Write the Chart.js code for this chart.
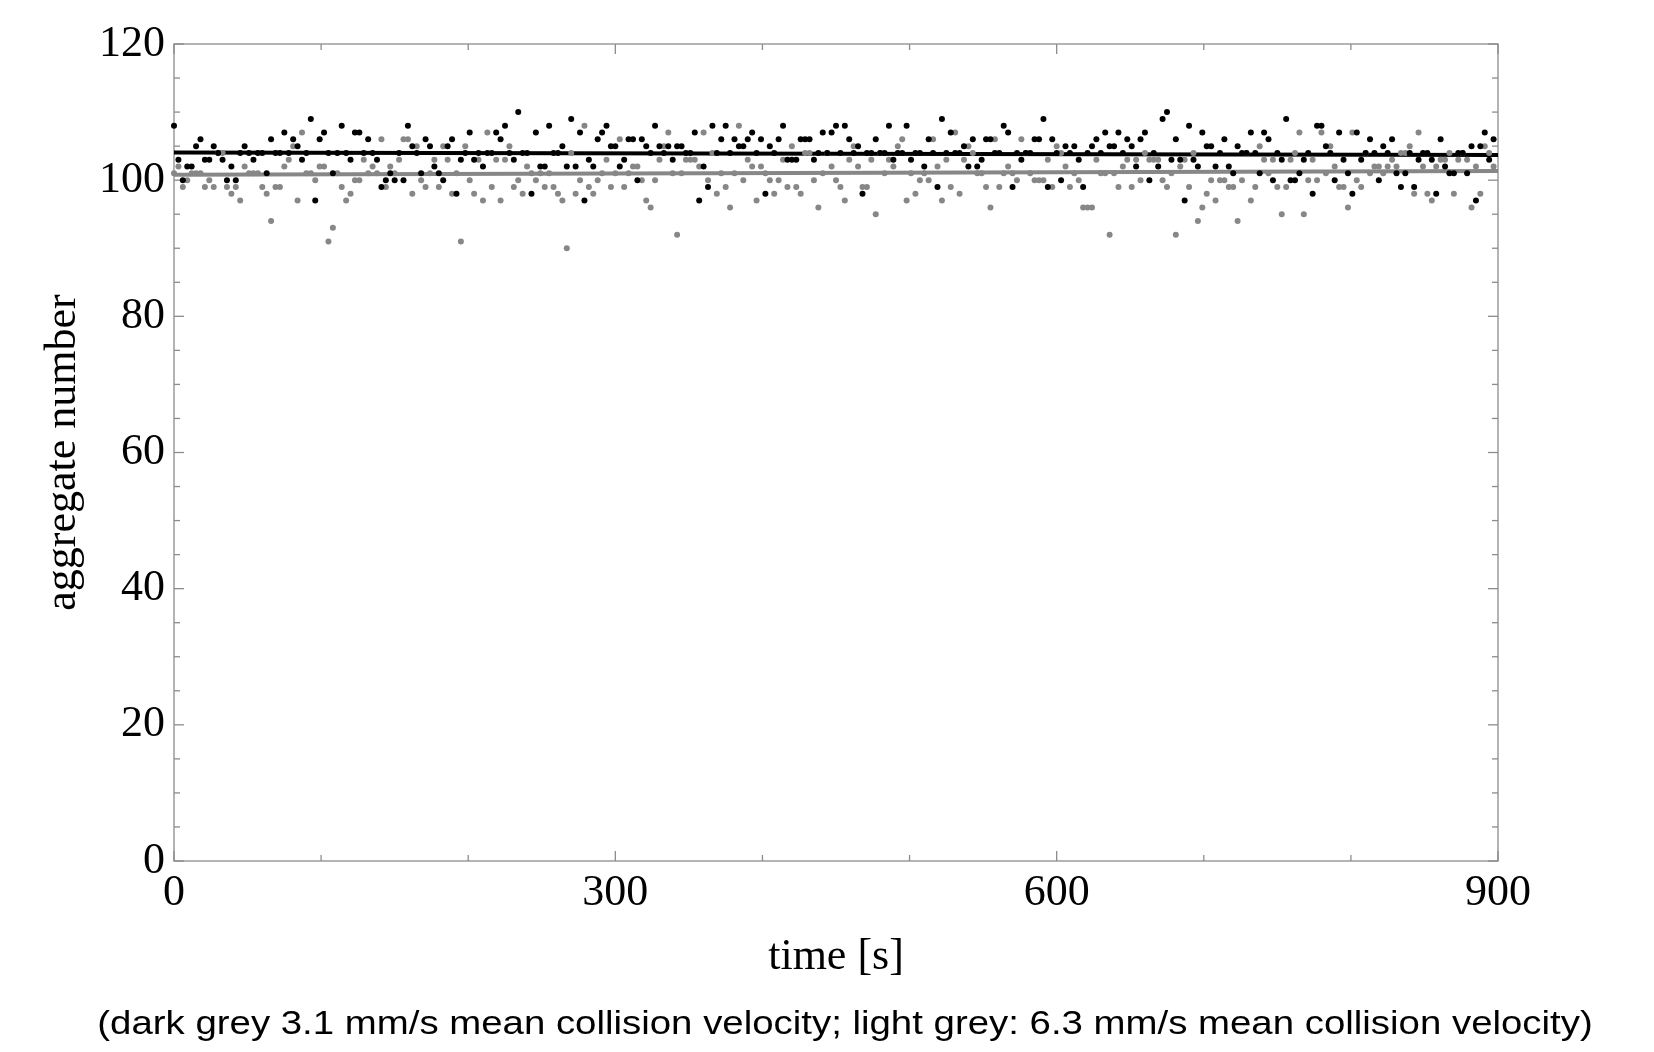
<!DOCTYPE html>
<html>
<head>
<meta charset="utf-8">
<script src="https://cdn.jsdelivr.net/npm/chart.js@4.4.1/dist/chart.umd.min.js"></script>
<style>
  html, body { margin: 0; padding: 0; background: #fff; }
  #wrap { width: 1654px; height: 1052px; position: relative; }
</style>
</head>
<body>
<div id="wrap"><canvas id="aggChart"></canvas></div>
<script>
// aggregate number vs. time, two collision velocities

// one frame every 3 s
const SAMPLE_STEP = 3;

// dark grey series (3.1 mm/s)
const blackCounts = [
  108,103,100,102,102,105,106,103,103,105,
  104,103,100,102,100,104,105,104,103,104,
  104,101,106,104,104,107,104,106,105,103,
  104,109,97,106,107,104,101,104,108,104,
  103,107,107,104,106,104,103,99,100,101,
  100,104,100,108,105,104,101,106,105,102,
  101,100,105,106,98,103,104,107,103,104,
  102,104,104,107,106,108,104,103,110,104,
  104,98,107,102,102,108,104,104,105,102,
  109,102,107,97,103,102,106,107,108,105,
  105,102,103,106,106,100,106,105,104,108,
  105,104,105,103,105,105,104,104,107,97,
  102,99,108,104,106,108,104,106,105,105,
  106,107,104,106,98,105,104,106,108,103,
  103,103,106,106,106,103,104,107,104,107,
  108,104,108,106,104,105,98,104,104,106,
  104,104,108,103,104,104,108,103,104,104,
  102,106,104,99,109,104,107,104,104,105,
  102,106,102,103,106,106,104,104,108,107,
  99,104,103,104,104,106,106,109,99,106,
  104,100,105,104,105,103,99,104,105,106,
  104,107,105,105,107,104,106,105,102,106,
  107,100,104,102,109,110,103,106,103,97,
  108,103,102,107,105,105,102,104,106,102,
  101,105,104,104,107,104,101,107,106,100,
  104,103,109,100,100,101,103,104,98,108,
  108,105,104,100,107,103,101,98,107,103,
  104,106,104,100,105,104,106,101,99,101,
  104,99,103,104,104,103,98,106,102,101,
  101,104,104,101,105,97,105,107,103,106
];

// light grey series (6.3 mm/s)
const greyCounts = [
  101,102,99,100,101,101,101,99,100,99,
  104,104,99,98,99,97,102,101,101,101,
  99,98,94,99,99,102,103,105,97,107,
  101,101,100,102,102,91,93,101,99,97,
  98,100,100,103,101,102,101,106,99,102,
  101,103,106,106,98,105,100,99,101,103,
  99,105,103,98,101,91,105,100,98,103,
  97,107,99,103,97,103,105,99,100,98,
  102,101,100,101,99,101,99,98,97,90,
  104,98,100,108,99,98,100,101,103,99,
  101,106,99,101,102,102,100,97,96,100,
  103,105,107,101,92,101,103,103,103,102,
  107,100,104,98,101,99,96,101,108,100,
  103,102,97,102,101,100,98,100,103,99,
  105,99,98,104,104,100,96,101,104,102,
  100,99,97,103,105,102,99,99,103,95,
  104,101,103,102,105,106,97,101,98,100,
  101,100,106,102,97,103,99,107,98,103,
  105,104,101,101,99,96,106,99,101,102,
  101,100,106,104,101,100,100,100,103,99,
  105,104,102,99,101,100,96,96,96,103,
  101,101,92,101,99,102,103,99,103,100,
  104,103,103,103,100,99,101,92,102,103,
  99,104,94,96,98,100,97,100,100,99,
  99,94,100,104,97,99,105,103,101,103,
  99,95,99,103,104,107,95,100,103,100,
  107,101,105,102,99,99,96,107,100,99,
  104,101,102,102,101,102,103,102,104,104,
  105,98,107,102,98,97,102,103,103,104,
  98,103,104,103,96,102,98,105,104,102
];

// mean lines (start / end values)
const fitTimes   = [0, 900];
const blackFit   = [104.05, 103.7];
const greyFit    = [100.8, 101.35];

const xTickLabels = [0, 300, 600, 900];
const yTickLabels = [0, 20, 40, 60, 80, 100, 120];

const caption = "(dark grey 3.1 mm/s mean collision velocity; light grey: 6.3 mm/s mean collision velocity)";

const BLACK = "#000000";
const GREY  = "#878787";
const FRAME = "#8c8c8c";
const SERIF = "'Liberation Serif', 'Times New Roman', serif";

const toPoints = counts => counts.map((v, i) => ({ x: i * SAMPLE_STEP, y: v }));
const fitPoints = vals => vals.map((v, i) => ({ x: fitTimes[i], y: v }));

// frame with inward ticks on all four sides
const framePlugin = {
  id: "frame",
  beforeDatasetsDraw(chart) {
    const { ctx, chartArea: a, scales: { x, y } } = chart;
    ctx.save();
    ctx.strokeStyle = FRAME;
    ctx.lineWidth = 1.3;
    ctx.strokeRect(a.left, a.top, a.right - a.left, a.bottom - a.top);

    const tick = (x1, y1, x2, y2) => {
      ctx.beginPath(); ctx.moveTo(x1, y1); ctx.lineTo(x2, y2); ctx.stroke();
    };
    for (let t = 0; t <= 900; t += 100) {
      const px = x.getPixelForValue(t);
      const len = xTickLabels.includes(t) ? 10 : 6;
      tick(px, a.bottom, px, a.bottom - len);
      tick(px, a.top, px, a.top + len);
    }
    for (let v = 0; v <= 120; v += 5) {
      const py = y.getPixelForValue(v);
      const len = yTickLabels.includes(v) ? 10 : 6;
      tick(a.left, py, a.left + len, py);
      tick(a.right, py, a.right - len, py);
    }
    ctx.restore();
  }
};

const captionPlugin = {
  id: "caption",
  afterDraw(chart) {
    const { ctx } = chart;
    ctx.save();
    ctx.font = "34px 'Liberation Sans', Arial, sans-serif";
    ctx.fillStyle = "#000";
    ctx.textAlign = "center";
    ctx.textBaseline = "alphabetic";
    ctx.translate(845, 1034);
    ctx.scale(1.129, 1);
    ctx.fillText(caption, 0, 0);
    ctx.restore();
  }
};

new Chart(document.getElementById("aggChart"), {
  type: "scatter",
  data: {
    datasets: [
      {
        label: "3.1 mm/s",
        data: toPoints(blackCounts),
        backgroundColor: BLACK,
        borderWidth: 0,
        pointRadius: 3,
        clip: false,
        order: 1
      },
      {
        label: "6.3 mm/s",
        data: toPoints(greyCounts),
        backgroundColor: GREY,
        borderWidth: 0,
        pointRadius: 3,
        clip: false,
        order: 2
      },
      {
        label: "mean 3.1 mm/s",
        data: fitPoints(blackFit),
        showLine: true,
        borderColor: BLACK,
        borderWidth: 4,
        pointRadius: 0,
        order: 3
      },
      {
        label: "mean 6.3 mm/s",
        data: fitPoints(greyFit),
        showLine: true,
        borderColor: GREY,
        borderWidth: 4,
        pointRadius: 0,
        order: 4
      }
    ]
  },
  options: {
    responsive: true,
    maintainAspectRatio: false,
    animation: false,
    layout: { padding: { left: 0, right: 156, top: 44, bottom: 0 } },
    plugins: {
      legend: { display: false },
      tooltip: { enabled: false }
    },
    scales: {
      x: {
        type: "linear",
        min: 0,
        max: 900,
        grid: { display: false, drawTicks: false },
        border: { display: false },
        afterBuildTicks: s => { s.ticks = xTickLabels.map(v => ({ value: v })); },
        afterFit: s => { s.height = 191; },
        ticks: {
          color: "#000",
          font: { family: SERIF, size: 44 },
          padding: 6,
          maxRotation: 0,
          autoSkip: false
        },
        title: {
          display: true,
          text: "time [s]",
          color: "#000",
          font: { family: SERIF, size: 44, lineHeight: 1.2 },
          padding: { top: 0, bottom: 68.6 }
        }
      },
      y: {
        type: "linear",
        min: 0,
        max: 120,
        grid: { display: false, drawTicks: false },
        border: { display: false },
        afterBuildTicks: s => { s.ticks = yTickLabels.map(v => ({ value: v })); },
        afterFit: s => { s.width = 174; },
        ticks: {
          color: "#000",
          font: { family: SERIF, size: 44 },
          padding: 9,
          autoSkip: false
        },
        title: {
          display: true,
          text: "aggregate number",
          color: "#000",
          font: { family: SERIF, size: 44, lineHeight: 1.2 },
          padding: { top: 36.6, bottom: 0 }
        }
      }
    }
  },
  plugins: [framePlugin, captionPlugin]
});
</script>
</body>
</html>
